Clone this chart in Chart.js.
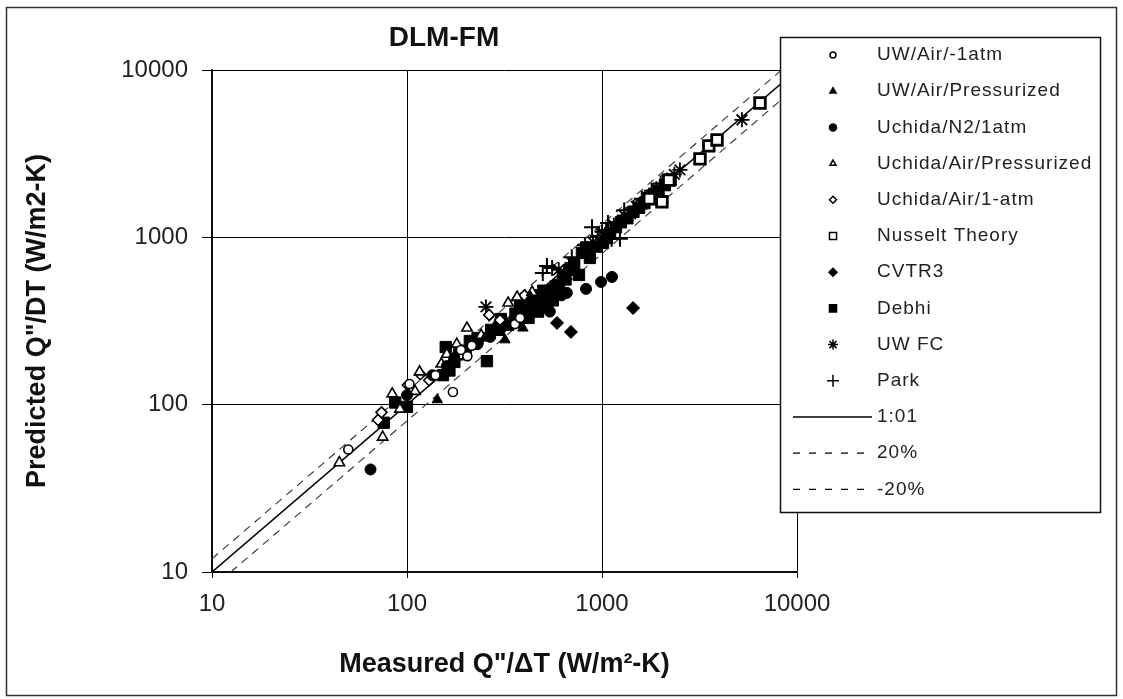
<!DOCTYPE html>
<html>
<head>
<meta charset="utf-8">
<script src="https://cdn.jsdelivr.net/npm/chart.js@4.4.1/dist/chart.umd.min.js"></script>
<style>
  html, body { margin: 0; padding: 0; background: #fff; }
</style>
</head>
<body>
<canvas id="dlmChart" width="1123" height="699"></canvas>
<script>
"use strict";

// 軸の目盛り (対数)
const tickValues = [10, 100, 1000, 10000];

// 各データ系列 [measured, predicted]
const uwAirAtm = [[50, 54], [172, 119], [103, 133], [189, 212], [204, 195], [358, 303], [215, 225], [140, 150], [380, 330]];
const uwAirPress = [[143, 107], [318, 244], [393, 287], [358, 334], [412, 367], [528, 424], [450, 400], [250, 250], [300, 270],
  [480, 380], [220, 230], [600, 520], [430, 440], [520, 470], [470, 430], [380, 300], [280, 290]];
const uchidaN2 = [[65, 41], [100, 114], [135, 150], [160, 170], [267, 254], [828, 492], [989, 541], [1125, 580], [660, 466],
  [500, 390], [560, 420], [420, 340], [300, 280], [175, 190], [230, 230], [620, 450], [540, 360]];
const uchidaAirPress = [[45, 45], [75, 64], [84, 116], [92, 94], [116, 157], [150, 175], [203, 287], [240, 260], [330, 405],
  [367, 440], [438, 470], [160, 200], [180, 230], [110, 120]];
const uchidaAir1atm = [[71, 81], [74, 90], [117, 152], [189, 200], [264, 344], [300, 320], [130, 140], [101, 131], [400, 450]];
const nusselt = [[2030, 1630], [3180, 2944], [3530, 3520], [3890, 3820], [6460, 6350], [1750, 1700], [2200, 2200]];
const cvtr3 = [[588, 308], [693, 272], [1443, 378], [500, 420], [450, 380], [540, 470]];
const debhi = [[76, 78], [87, 103], [100, 97], [153, 150], [158, 221], [175, 180], [257, 182], [303, 325], [200, 210], [230, 250],
  [330, 300], [360, 350], [380, 400], [420, 330], [440, 420], [470, 360], [480, 450], [520, 400], [540, 470], [560, 420],
  [511, 440], [561, 485], [631, 579], [762, 596], [789, 807], [867, 753], [1012, 927], [1060, 990], [600, 520], [680, 640],
  [720, 700], [830, 870], [940, 880], [1100, 1060], [1180, 1150], [1250, 1230], [1350, 1300], [1450, 1420], [1550, 1500],
  [1650, 1600], [1750, 1700], [1850, 1820], [1950, 1900], [2100, 2050], [2250, 2200], [400, 360], [460, 390], [500, 480],
  [580, 510], [650, 560], [270, 280], [165, 160], [185, 200], [210, 240]];
const uwFc = [[254, 384], [702, 703], [899, 937], [1000, 1080], [1150, 1180], [1300, 1350], [1500, 1530], [1700, 1740],
  [1900, 1950], [2150, 2200], [2350, 2380], [2510, 2530], [5220, 5040], [600, 640], [820, 860], [1400, 1380], [1600, 1580]];
const park = [[497, 613], [522, 675], [555, 656], [889, 1150], [1074, 1219], [1120, 980], [1236, 980], [1300, 1450],
  [1450, 1500], [1600, 1700], [1800, 1900], [2000, 2100], [950, 1020], [1050, 1100], [700, 760], [820, 900]];

// 1:1 と ±20% の線
const lineOne = [[10, 10], [10000, 10000]];
const linePlus = [[10, 12], [10000, 12000]];
const lineMinus = [[12.5, 10], [10000, 8000]];

const toXY = (pairs) => pairs.map(p => ({ x: p[0], y: p[1] }));

// マーカー系列
const markerSet = (label, pairs, style, radius, filled, bw, legendRadius) => ({
    label,
    data: toXY(pairs),
    pointStyle: style,
    pointRadius: radius,
    pointHoverRadius: radius,
    pointBorderWidth: bw,
    pointBackgroundColor: filled ? '#000' : '#fff',
    pointBorderColor: '#000',
    showLine: false,
    legendRadius
});

// 線の系列
const lineSet = (label, pairs, dash) => ({
    label,
    data: toXY(pairs),
    showLine: true,
    pointRadius: 0,
    pointHoverRadius: 0,
    borderColor: dash.length ? '#333' : '#000',
    borderWidth: dash.length ? 1.1 : 1.5,
    borderDash: dash
});

const fontFamily = '"Liberation Sans", Arial, sans-serif';

// 外枠とタイトル
const frame = {
    id: 'frame',
    beforeDraw(chart) {
        const ctx = chart.ctx;
        ctx.save();
        ctx.fillStyle = '#fff';
        ctx.fillRect(0, 0, chart.width, chart.height);
        ctx.strokeStyle = '#333';
        ctx.lineWidth = 1.5;
        ctx.strokeRect(6.5, 7.5, 1110, 688);
        ctx.restore();
    },
    afterDraw(chart) {
        const ctx = chart.ctx;
        ctx.save();
        ctx.fillStyle = '#111';
        ctx.font = 'bold 28px ' + fontFamily;
        ctx.textAlign = 'center';
        ctx.textBaseline = 'middle';
        ctx.fillText('DLM-FM', 444, 38);
        ctx.restore();
    }
};

// 凡例 (枠付き)
const legendBox = {
    id: 'legendBox',
    afterDraw(chart) {
        const ctx = chart.ctx;
        ctx.save();
        ctx.fillStyle = '#fff';
        ctx.fillRect(780, 37, 320, 475);
        ctx.strokeStyle = '#111';
        ctx.lineWidth = 1.5;
        ctx.strokeRect(780.5, 37.5, 320, 475);
        chart.data.datasets.forEach((ds, i) => {
            const y = 55 + i * 36.2;
            if (ds.showLine) {
                ctx.strokeStyle = '#000';
                ctx.lineWidth = 1.3;
                ctx.setLineDash(ds.borderDash.length ? [7, 9] : []);
                ctx.beginPath();
                ctx.moveTo(793, y);
                ctx.lineTo(ds.borderDash.length ? 866 : 872, y);
                ctx.stroke();
                ctx.setLineDash([]);
            } else {
                ctx.fillStyle = ds.pointBackgroundColor;
                ctx.strokeStyle = '#000';
                ctx.lineWidth = 1.5;
                Chart.helpers.drawPoint(ctx, {
                    pointStyle: ds.pointStyle,
                    rotation: 0,
                    radius: ds.legendRadius,
                    borderWidth: 1.5
                }, 833, y);
            }
            ctx.fillStyle = '#222';
            ctx.font = '19px ' + fontFamily;
            ctx.letterSpacing = '1px';
            ctx.textAlign = 'left';
            ctx.textBaseline = 'middle';
            ctx.fillText(ds.label, 877, y);
            ctx.letterSpacing = '0px';
        });
        ctx.restore();
    }
};

const decadeTicks = (scale) => {
    scale.ticks = tickValues.map(v => ({ value: v }));
};

const ctx = document.getElementById('dlmChart').getContext('2d');
const chart = new Chart(ctx, {
    type: 'scatter',
    data: {
        datasets: [
            markerSet('UW/Air/-1atm', uwAirAtm, 'circle', 4.5, false, 1.6, 3),
            markerSet('UW/Air/Pressurized', uwAirPress, 'triangle', 6, true, 1, 3.5),
            markerSet('Uchida/N2/1atm', uchidaN2, 'circle', 5.5, true, 1, 3.5),
            markerSet('Uchida/Air/Pressurized', uchidaAirPress, 'triangle', 6, false, 1.6, 3.5),
            markerSet('Uchida/Air/1-atm', uchidaAir1atm, 'rectRot', 5.5, false, 1.6, 3.5),
            markerSet('Nusselt Theory', nusselt, 'rect', 7.5, false, 2.8, 5),
            markerSet('CVTR3', cvtr3, 'rectRot', 6.5, true, 1, 4),
            markerSet('Debhi', debhi, 'rect', 8, true, 1, 5),
            markerSet('UW FC', uwFc, 'star', 7.5, false, 1.8, 5),
            markerSet('Park', park, 'cross', 8, false, 2, 6),
            lineSet('1:01', lineOne, []),
            lineSet('20%', linePlus, [8, 6]),
            lineSet('-20%', lineMinus, [8, 6])
        ]
    },
    options: {
        responsive: false,
        animation: false,
        layout: { padding: { left: 0, right: 326, top: 70, bottom: 0 } },
        plugins: {
            legend: { display: false },
            tooltip: { enabled: false }
        },
        scales: {
            x: {
                type: 'logarithmic',
                min: 10,
                max: 10000,
                afterBuildTicks: decadeTicks,
                afterFit: (scale) => { scale.height = 127; },
                grid: { color: '#000', lineWidth: 1, tickLength: 6 },
                border: { color: '#111', width: 1.5 },
                ticks: {
                    color: '#222',
                    padding: 12,
                    maxRotation: 0,
                    font: { size: 24, family: fontFamily },
                    callback: (v) => String(v)
                },
                title: {
                    display: true,
                    text: 'Measured Q"/\u0394T (W/m\u00B2-K)',
                    color: '#111',
                    font: { size: 27, weight: 'bold', family: fontFamily },
                    padding: { top: 0, bottom: 18 }
                }
            },
            y: {
                type: 'logarithmic',
                min: 10,
                max: 10000,
                afterBuildTicks: decadeTicks,
                afterFit: (scale) => { scale.width = 212; },
                grid: { color: '#000', lineWidth: 1, tickLength: 10 },
                border: { color: '#111', width: 1.5 },
                ticks: {
                    color: '#222',
                    padding: 14,
                    font: { size: 24, family: fontFamily },
                    callback: (v) => String(v)
                },
                title: {
                    display: true,
                    text: 'Predicted Q"/DT (W/m2-K)',
                    color: '#111',
                    font: { size: 27, weight: 'bold', family: fontFamily },
                    padding: { top: 21, bottom: 0 }
                }
            }
        }
    },
    plugins: [frame, legendBox]
});
</script>
</body>
</html>
